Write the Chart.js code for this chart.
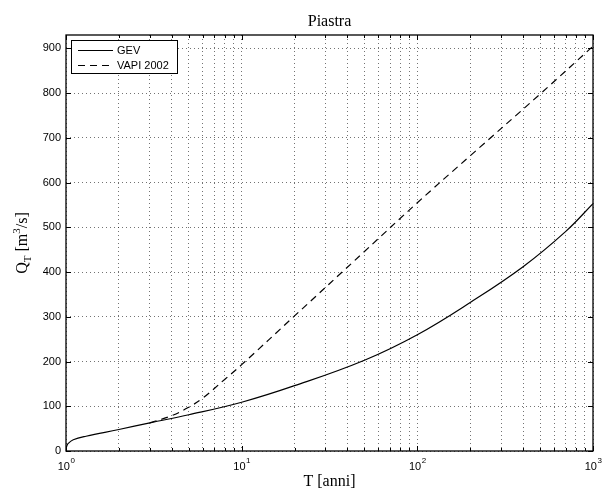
<!DOCTYPE html>
<html>
<head>
<meta charset="utf-8">
<script src="https://cdn.jsdelivr.net/npm/chart.js@4.4.1/dist/chart.umd.min.js"></script>
<style>
  html, body { margin: 0; padding: 0; background: #fff; }
  #wrap { width: 604px; height: 493px; }
</style>
</head>
<body>
<div id="wrap"><canvas id="chart" width="604" height="493"></canvas></div>
<script>
// Return period T [anni] vs discharge Q_T [m^3/s]
const gevT = [1, 1.003, 1.01, 1.03, 1.1, 1.3, 2, 3, 5, 10, 20, 50, 100, 200, 400, 700, 1000];
const gevQ = [0, 5, 11, 17, 25, 33, 48, 63, 81, 109, 146, 203, 260, 332, 412, 491, 553];

const vapiT = [3, 4, 5, 6, 8, 10, 20, 50, 100, 200, 500, 1000];
const vapiQ = [63, 79, 98, 118, 160, 193, 302, 446, 555, 660, 798, 905];

const seriesLabels = ['GEV', 'VAPI 2002'];
const yTicks = [0, 100, 200, 300, 400, 500, 600, 700, 800, 900];
const xMajor = [1, 10, 100, 1000];
const xExponents = ['0', '1', '2', '3'];

// minor decades 2..9 for the log grid
const xTicks = [];
xMajor.forEach((d, i) => {
  xTicks.push(d);
  if (i < xMajor.length - 1) for (let k = 2; k <= 9; k++) xTicks.push(d * k);
});

const SANS = '"Liberation Sans", Arial, sans-serif';
const SERIF = '"Liberation Serif", "Times New Roman", serif';

const matlabAxes = {
  id: 'matlabAxes',
  afterDraw(chart) {
    const { ctx, chartArea: a, scales: { x, y } } = chart;
    ctx.save();

    // box
    ctx.strokeStyle = '#000';
    ctx.lineWidth = 1.3;
    ctx.setLineDash([]);
    ctx.strokeRect(a.left, a.top, a.right - a.left, a.bottom - a.top);

    // inward ticks
    ctx.lineWidth = 1;
    ctx.beginPath();
    yTicks.forEach(v => {
      const py = Math.round(y.getPixelForValue(v)) + 0.5;
      ctx.moveTo(a.left, py); ctx.lineTo(a.left + 5, py);
      ctx.moveTo(a.right, py); ctx.lineTo(a.right - 5, py);
    });
    xTicks.forEach(v => {
      const px = Math.round(x.getPixelForValue(v)) + 0.5;
      const len = xMajor.includes(v) ? 5 : 3;
      ctx.moveTo(px, a.bottom); ctx.lineTo(px, a.bottom - len);
      ctx.moveTo(px, a.top); ctx.lineTo(px, a.top + len);
    });
    ctx.stroke();

    // y tick labels
    ctx.fillStyle = '#000';
    ctx.font = '11px ' + SANS;
    ctx.textAlign = 'right';
    ctx.textBaseline = 'middle';
    yTicks.forEach(v => ctx.fillText(String(v), a.left - 5, y.getPixelForValue(v)));

    // x tick labels 10^n
    ctx.textAlign = 'left';
    ctx.textBaseline = 'alphabetic';
    xMajor.forEach((v, i) => {
      const px = x.getPixelForValue(v);
      ctx.font = '11px ' + SANS;
      const w1 = ctx.measureText('10').width;
      ctx.font = '8px ' + SANS;
      const w2 = ctx.measureText(xExponents[i]).width;
      const x0 = px - (w1 + w2) / 2;
      ctx.font = '11px ' + SANS;
      ctx.fillText('10', x0, 470);
      ctx.font = '8px ' + SANS;
      ctx.fillText(xExponents[i], x0 + w1 + 0.5, 463);
    });

    // title
    const cx = (a.left + a.right) / 2;
    ctx.font = '16px ' + SERIF;
    ctx.textAlign = 'center';
    ctx.fillText('Piastra', cx, 26);

    // x title
    ctx.fillText('T [anni]', cx, 486);

    // y title: Q_T [m^3/s], rotated
    ctx.translate(27, (a.top + a.bottom) / 2);
    ctx.rotate(-Math.PI / 2);
    const parts = [
      { t: 'Q', f: '16px ', dy: 0 },
      { t: 'T', f: '11px ', dy: 4 },
      { t: ' [m', f: '16px ', dy: 0 },
      { t: '3', f: '11px ', dy: -7 },
      { t: '/s]', f: '16px ', dy: 0 },
    ];
    let total = 0;
    parts.forEach(p => { ctx.font = p.f + SERIF; p.w = ctx.measureText(p.t).width; total += p.w; });
    let tx = -total / 2;
    ctx.textAlign = 'left';
    parts.forEach(p => { ctx.font = p.f + SERIF; ctx.fillText(p.t, tx, p.dy); tx += p.w; });
    ctx.restore();

    // legend
    ctx.save();
    const lx = 71.5, ly = 40.5, lw = 106, lh = 33;
    ctx.fillStyle = '#fff';
    ctx.fillRect(lx, ly, lw, lh);
    ctx.strokeStyle = '#000';
    ctx.lineWidth = 1;
    ctx.strokeRect(lx, ly, lw, lh);
    ctx.font = '11px ' + SANS;
    ctx.textBaseline = 'middle';
    ctx.textAlign = 'left';
    chart.data.datasets.forEach((ds, i) => {
      const yy = 50.5 + i * 15;
      ctx.setLineDash(ds.borderDash || []);
      ctx.lineWidth = ds.borderWidth;
      ctx.strokeStyle = ds.borderColor;
      ctx.beginPath();
      ctx.moveTo(78, yy); ctx.lineTo(113, yy);
      ctx.stroke();
      ctx.setLineDash([]);
      ctx.fillStyle = '#000';
      ctx.fillText(ds.label, 117, yy + 0.5);
    });
    ctx.restore();
  }
};

new Chart(document.getElementById('chart'), {
  type: 'line',
  data: {
    datasets: [
      {
        label: seriesLabels[0],
        data: gevT.map((t, i) => ({ x: t, y: gevQ[i] })),
        borderColor: '#000',
        borderWidth: 1.2,
        pointRadius: 0,
        tension: 0.4,
        fill: false,
      },
      {
        label: seriesLabels[1],
        data: vapiT.map((t, i) => ({ x: t, y: vapiQ[i] })),
        borderColor: '#000',
        borderWidth: 1.2,
        borderDash: [7, 5],
        pointRadius: 0,
        tension: 0.4,
        fill: false,
      },
    ],
  },
  options: {
    responsive: false,
    animation: false,
    layout: { padding: { left: 0, right: 11, top: 35, bottom: 0 } },
    plugins: { legend: { display: false }, tooltip: { enabled: false } },
    scales: {
      x: {
        type: 'logarithmic',
        min: 1,
        max: 1000,
        afterBuildTicks: s => { s.ticks = xTicks.map(v => ({ value: v })); },
        afterFit: s => { s.height = 42; },
        ticks: { display: false },
        grid: { color: 'rgba(0,0,0,0.55)', lineWidth: 1, drawTicks: false },
        border: { display: false, dash: [1, 3] },
      },
      y: {
        type: 'linear',
        min: 0,
        max: 930,
        afterBuildTicks: s => { s.ticks = yTicks.map(v => ({ value: v })); },
        afterFit: s => { s.width = 66; },
        ticks: { display: false },
        grid: { color: 'rgba(0,0,0,0.55)', lineWidth: 1, drawTicks: false },
        border: { display: false, dash: [1, 3] },
      },
    },
  },
  plugins: [matlabAxes],
});
</script>
</body>
</html>
